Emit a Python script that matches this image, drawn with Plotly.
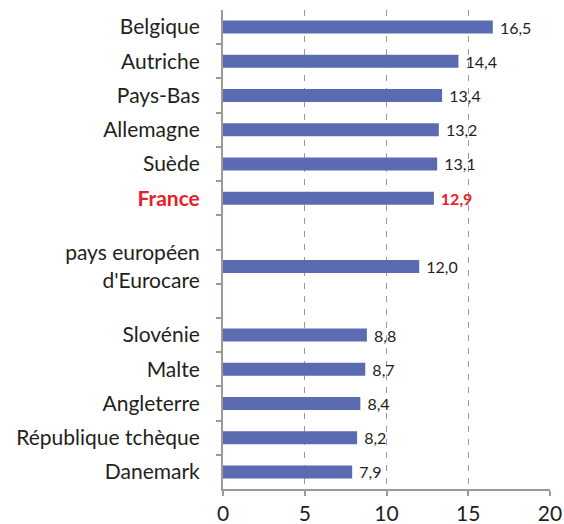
import plotly.graph_objects as go

# Rows grouped into three blocks, separated by an empty row
top_labels = ["Belgique", "Autriche", "Pays-Bas", "Allemagne", "Suède", "France"]
top_values = [16.5, 14.4, 13.4, 13.2, 13.1, 12.9]
mid_labels = ["pays européen<br>d'Eurocare"]
mid_values = [12.0]
bottom_labels = ["Slovénie", "Malte", "Angleterre", "République tchèque", "Danemark"]
bottom_values = [8.8, 8.7, 8.4, 8.2, 7.9]
highlight = "France"
x_ticks = [0, 5, 10, 15, 20]

BAR = "#5b6bb2"
TXT = "#231f20"
RED = "#e8202a"
AXIS = "#a39794"
FONT = "Lato"

labels, values, rows = [], [], []
row = 0
for grp_l, grp_v in [(top_labels, top_values), (mid_labels, mid_values), (bottom_labels, bottom_values)]:
    if row:
        row += 1  # empty row between blocks
    for l, v in zip(grp_l, grp_v):
        labels.append(l)
        values.append(v)
        rows.append(row)
        row += 1
n_rows = row

def fmt(v):
    return " " + f"{v:.1f}".replace(".", ",")

texts = []
tick_text = []
for l, v in zip(labels, values):
    if l == highlight:
        texts.append(f"<b><span style='color:{RED}'>{fmt(v)}</span></b>")
        tick_text.append(f"<b><span style='color:{RED}'>{l}</span></b>")
    else:
        texts.append(fmt(v))
        tick_text.append(l)

fig = go.Figure(go.Bar(
    x=values, y=rows, orientation="h", width=0.38,
    marker=dict(color=BAR, line=dict(width=0)),
    text=texts, textposition="outside", cliponaxis=False, constraintext="none",
    textfont=dict(family=FONT, size=16, color=TXT),
))

fig.update_layout(
    width=564, height=524,
    margin=dict(l=223, r=14, t=10, b=35, autoexpand=False),
    paper_bgcolor="white", plot_bgcolor="white",
    showlegend=False,
    font=dict(family=FONT, color=TXT),
    xaxis=dict(
        range=[0, 20], tickvals=x_ticks, ticks="outside", ticklen=5,
        tickcolor=AXIS, tickwidth=2, showline=True, linecolor=AXIS, linewidth=2,
        showgrid=True, gridcolor=AXIS, griddash="6px,7px", gridwidth=1.2,
        zeroline=False, automargin=False,
        tickfont=dict(family=FONT, size=21, color=TXT),
    ),
    yaxis=dict(
        range=[n_rows - 0.5, -0.5], tickvals=rows, ticktext=tick_text,
        ticks="", showline=True, linecolor=AXIS, linewidth=2,
        showgrid=False, zeroline=False, ticklabelstandoff=17, automargin=False,
        tickfont=dict(family=FONT, size=21, color=TXT),
        minor=dict(tickmode="array", tickvals=[k + 0.5 for k in range(n_rows - 1)],
                   ticks="outside", ticklen=5, tickcolor=AXIS, tickwidth=2,
                   showgrid=False),
    ),
)

fig.write_html("out.html")
